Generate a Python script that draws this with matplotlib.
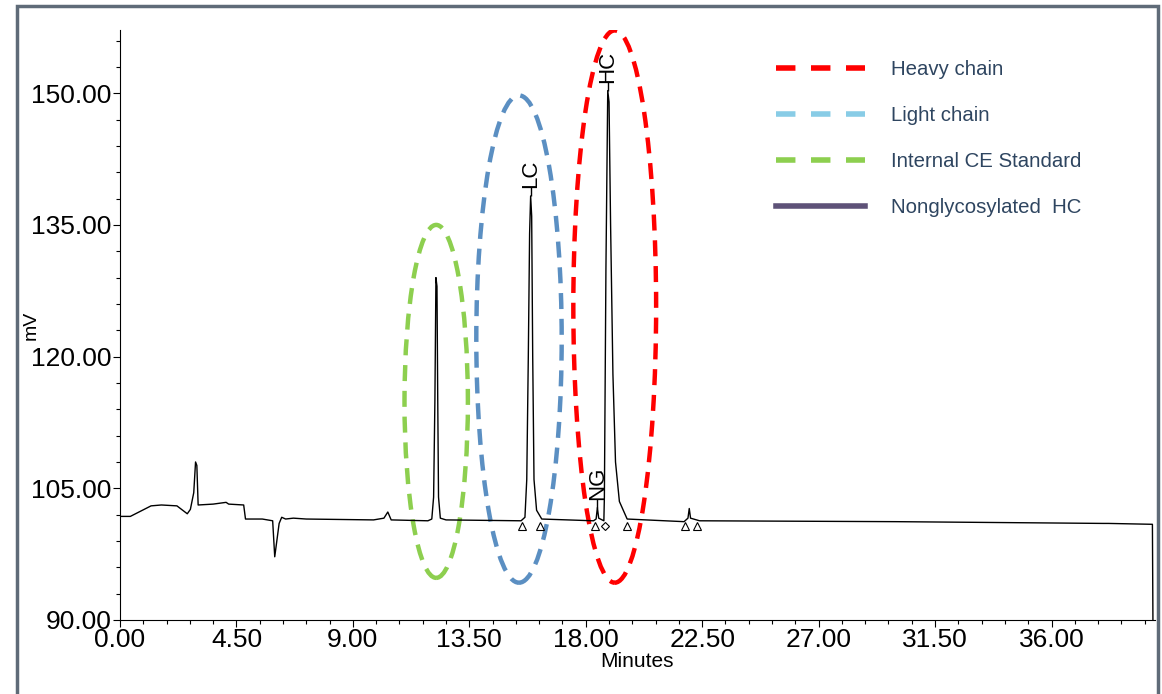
import matplotlib
matplotlib.use('Agg')
import matplotlib.pyplot as plt
from matplotlib.lines import Line2D
from matplotlib.patches import Ellipse, Rectangle

plt.rcParams['font.family'] = ['Liberation Sans', 'DejaVu Sans']

# electropherogram trace (minutes, mV)
time_min = [0.0, 0.4, 0.8, 1.2, 1.6, 2.2, 2.6, 2.72, 2.85, 2.92, 2.97, 3.02,
            3.6, 4.1, 4.2, 4.78, 4.85, 5.5, 5.9, 5.98, 6.15, 6.25, 6.4, 6.7,
            7.2, 9.8, 10.2, 10.35, 10.48, 11.9, 12.05, 12.12, 12.17, 12.21,
            12.25, 12.28, 12.31, 12.38, 12.6, 15.5, 15.65, 15.72, 15.78, 15.83,
            15.87, 15.91, 15.95, 16.0, 16.1, 16.3, 18.3, 18.4, 18.45, 18.5,
            18.7, 18.72, 18.78, 18.85, 18.9, 18.96, 19.05, 19.15, 19.3, 19.6,
            21.8, 21.95, 22.0, 22.05, 22.4, 30.0, 38.0, 38.2, 39.9, 39.92]
signal_mv = [101.8, 101.8, 102.4, 103.0, 103.1, 103.0, 102.1, 102.6, 104.5, 108.0, 107.6, 103.1,
             103.2, 103.4, 103.2, 103.1, 101.5, 101.5, 101.3, 97.2, 101.0, 101.7, 101.5, 101.6,
             101.5, 101.4, 101.6, 102.3, 101.4, 101.3, 101.5, 104.0, 115.0, 129.0,
             128.0, 115.0, 104.0, 101.6, 101.4, 101.3, 101.7, 106.0, 120.0, 134.0,
             138.3, 136.0, 120.0, 106.0, 102.5, 101.5, 101.3, 101.5, 102.8, 101.6,
             101.3, 104.0, 130.0, 150.3, 149.0, 135.0, 118.0, 108.0, 103.5, 101.5,
             101.2, 101.6, 102.7, 101.6, 101.3, 101.2, 101.0, 101.0, 100.9, 90.0]

# integration markers
tri_t = [15.52, 16.25, 18.34, 19.6, 21.85, 22.3]
diamond_t = [18.73]
marker_mv = 100.75

# peak labels
peak_names = ['LC', 'HC', 'NG']
peak_t = [15.87, 18.85, 18.45]
peak_top = [138.3, 150.3, 102.8]

# circled regions: centre time, centre mV, width (min), height (mV)
regions = ['Internal CE Standard', 'Light chain', 'Heavy chain']
reg_t = [12.22, 15.42, 19.12]
reg_mv = [114.9, 122.0, 125.7]
reg_w = [2.45, 3.3, 3.2]
reg_h = [40.2, 55.5, 62.9]
reg_colors = ['#8DCF4F', '#5B8FC2', '#FF0000']

legend_labels = ['Heavy chain', 'Light chain', 'Internal CE Standard', 'Nonglycosylated  HC']
legend_colors = ['#FF0000', '#88CCE6', '#8DCF4F', '#5E5278']

fig = plt.figure(figsize=(11.62, 6.94), dpi=100)
ax = fig.add_axes([120 / 1162, 1 - 620 / 694, 1035 / 1162, 590 / 694])

ax.plot(time_min, signal_mv, color='black', lw=1.0)
ax.plot(tri_t, [marker_mv] * len(tri_t), ls='none', marker='^', ms=6,
        mfc='white', mec='black', mew=0.8)
ax.plot(diamond_t, [marker_mv] * len(diamond_t), ls='none', marker='D', ms=4.5,
        mfc='white', mec='black', mew=0.8)

for name, t, top in zip(peak_names, peak_t, peak_top):
    ax.vlines(t, top, top + 1.0, color='black', lw=1.0)
    ax.text(t, top + 0.9, name, rotation=90, ha='center', va='bottom', fontsize=16)

for t, m, w, h, c in zip(reg_t, reg_mv, reg_w, reg_h, reg_colors):
    ax.add_patch(Ellipse((t, m), w, h, fill=False, ec=c, lw=3.2,
                         ls=(0, (3.6, 2.2))))

ax.set_xlim(0, 40)
ax.set_ylim(90, 157.2)
ax.set_xticks([0, 4.5, 9, 13.5, 18, 22.5, 27, 31.5, 36])
ax.set_xticklabels(['0.00', '4.50', '9.00', '13.50', '18.00', '22.50', '27.00', '31.50', '36.00'])
ax.set_xticks([i * 0.9 for i in range(45)], minor=True)
ax.set_yticks([90, 105, 120, 135, 150])
ax.set_yticklabels(['90.00', '105.00', '120.00', '135.00', '150.00'])
ax.set_yticks([90 + 3 * i for i in range(23)], minor=True)
ax.tick_params(which='major', length=5, width=0.8, labelsize=19, pad=1)
ax.tick_params(which='minor', length=3, width=0.8)
ax.spines['top'].set_visible(False)
ax.spines['right'].set_visible(False)
ax.set_xlabel('Minutes', fontsize=15, labelpad=0)
ax.set_ylabel('mV', fontsize=14)
ax.yaxis.set_label_coords(-0.078, 0.5)

handles = [Line2D([], [], color=c, lw=4, ls=(0, (3.5, 2.8))) for c in legend_colors[:3]]
handles.append(Line2D([], [], color=legend_colors[3], lw=4))
fig.legend(handles, legend_labels, loc='upper left',
           bbox_to_anchor=(776 / 1162, 1 - 60 / 694), frameon=False,
           fontsize=14.7, labelcolor='#2E4560', handlelength=4.36,
           handletextpad=1.27, labelspacing=1.32, borderpad=0, borderaxespad=0)

fig.patches.append(Rectangle((17 / 1162, -0.05), 1141 / 1162, 1.05 - 6 / 694,
                             transform=fig.transFigure, fill=False,
                             ec='#5F6B78', lw=2.5))

fig.savefig('out.png', dpi=100)
